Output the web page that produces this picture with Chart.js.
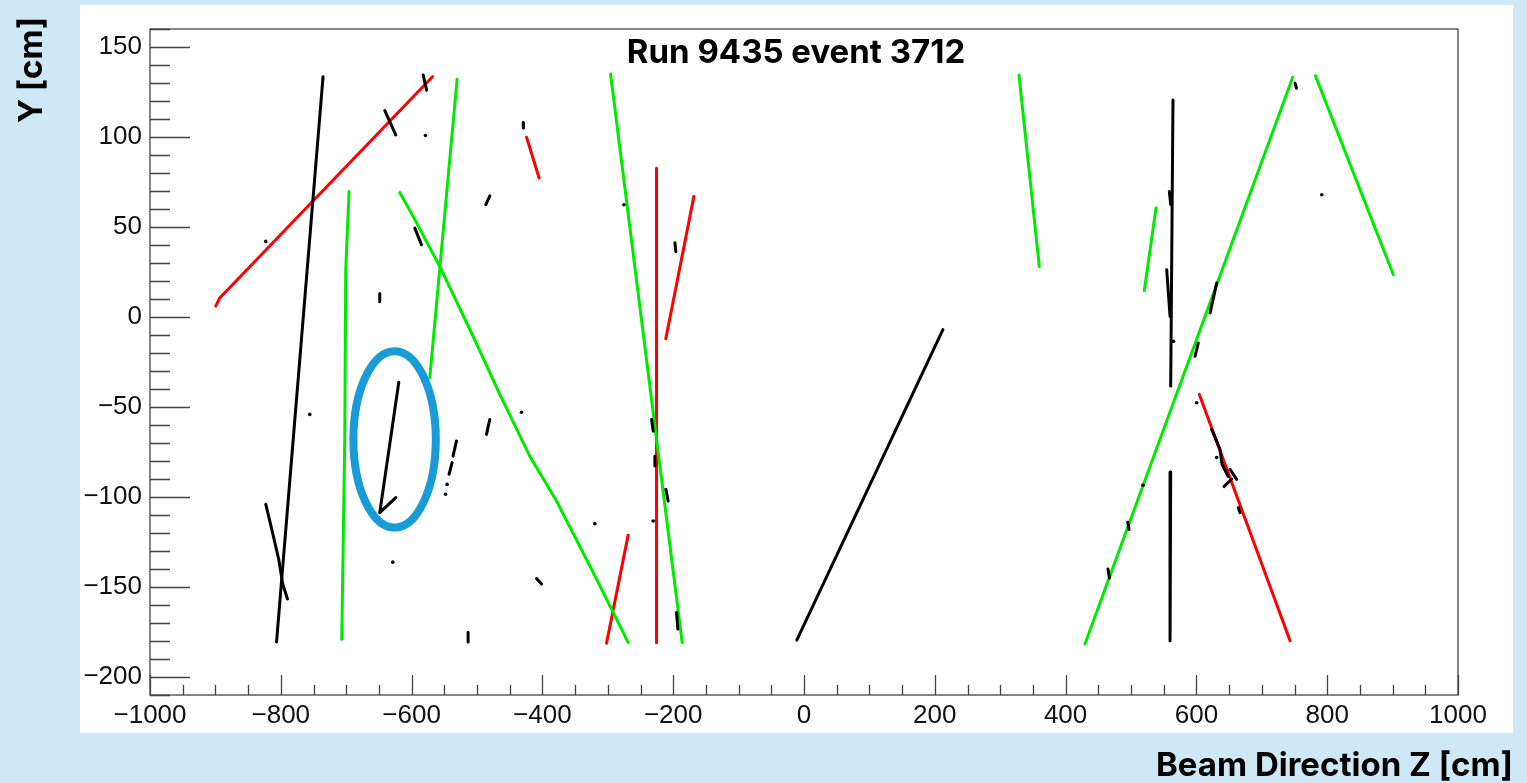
<!DOCTYPE html>
<html>
<head>
<meta charset="utf-8">
<title>Run 9435 event 3712</title>
<script src="https://cdn.jsdelivr.net/npm/chart.js@4.4.1/dist/chart.umd.min.js"></script>
<style>
  html, body { margin: 0; padding: 0; background: #cee8f5; }
  canvas { display: block; }
</style>
</head>
<body>
<canvas id="eventDisplay" width="1527" height="783"></canvas>
<script>
// Z-Y view of the event, every track is a polyline of [z, y] points in cm
const blackTracks = [
  [[-806.5, -180.5], [-735.4, 133.5]],
  [[-823, -104], [-813.9, -117.9], [-803.2, -134.6], [-797, -148.4], [-789.8, -156.7]],
  [[-619.6, -36.2], [-648.7, -108.7], [-624.2, -100.3]],
  [[-11, -179.5], [212.4, -7]],
  [[564.2, 120.6], [560.7, -38.4]],
  [[560.7, -86.1], [559.7, -179.9]],
  [[-641, 114.7], [-624.2, 101.2]],
  [[-582.3, 134.5], [-577, 126]]
];

const greenTracks = [
  [[-706.8, -179], [-702.2, -68], [-700.7, 26.3], [-695.6, 69.7]],
  [[-572.2, -33.8], [-530.4, 132.1]],
  [[-618.1, 69.2], [-597.7, 55.9], [-556.9, 28.1], [-506, -10.7], [-465.1, -43],
   [-419.3, -77.3], [-378.4, -102.2], [-322.4, -141.9], [-268.9, -180.8]],
  [[-295.8, 135], [-186.3, -180.8]],
  [[328.7, 134.5], [359.8, 28]],
  [[538.2, 60.5], [520.3, 14.6]],
  [[429.6, -181.7], [747.3, 133.2]],
  [[781.9, 134.1], [901.2, 23.5]]
];

const redTracks = [
  [[-899.5, 6], [-893.4, 10.6], [-568.1, 133.5]],
  [[-424.3, 99.9], [-405, 77.2]],
  [[-225.5, 82.7], [-225.5, -181]],
  [[-168.4, 67], [-211.3, -12.1]],
  [[-268.9, -121.2], [-301.9, -181.2]],
  [[604.5, -43], [743.2, -179.9]]
];

// short unassociated hit clusters
const hitSegments = [
  [[-486.5, 62.4], [-480.4, 67.3]],
  [[-197.4, 41.3], [-196, 36.3]],
  [[-480.4, -56.9], [-485.5, -65.2]],
  [[-531.4, -68.9], [-536.6, -77.3]],
  [[-538.1, -80.9], [-542.7, -87.4]],
  [[-409, -145.3], [-401.3, -148.4]],
  [[-513.6, -175.2], [-513.6, -180.6]],
  [[-211.2, -95.7], [-207.7, -102.2]],
  [[-233, -56.9], [-230.6, -63.4]],
  [[-228, -77.3], [-228, -82.8]],
  [[-648.7, 13], [-648.7, 8.5]],
  [[-595.1, 49.4], [-584.9, 40.2]],
  [[-429.5, 108], [-429, 105]],
  [[750.8, 129.9], [753, 127.1]],
  [[558.6, 69.7], [560.7, 62.4]],
  [[554.6, 26.3], [559.7, 0.4]],
  [[631.1, 18.9], [620.9, 2.3]],
  [[602.9, -14.4], [597.9, -21.8]],
  [[623.4, -62.4], [636.1, -73.5], [639.2, -81.8], [648.4, -88.5]],
  [[651.4, -84.6], [661.6, -90.2]],
  [[642.2, -94.2], [653.9, -90]],
  [[664.1, -105.9], [666.7, -108.7]],
  [[-194.9, -164.1], [-192.9, -173.4]],
  [[464.8, -140], [467, -145]],
  [[495, -114], [497, -118]]
];

const hitDots = [
  [-823, 42], [-578.8, 100.8], [-275.4, 62.4], [-431.9, -52.9], [-319.8, -114.8],
  [-230.6, -113.3], [-545.7, -93], [-548.2, -98.5], [-628.8, -136.2], [791.7, 67.9],
  [565, -13.5], [600.4, -47.6], [631, -78.1], [518.3, -93.5], [-755.7, -54.1]
];

// highlighted region around the short kinked track
const ringCenter = [-626, -68];
const ringRadius = [63, 49];

const titleText = 'Run 9435 event 3712';
const xTitle = 'Beam Direction Z [cm]';
const yTitle = 'Y [cm]';

const toXY = pts => pts.map(([x, y]) => ({ x, y }));
const fmt = v => (v < 0 ? '\u2212' + Math.abs(v) : String(v));

function trackSet(track, color) {
  return {
    data: toXY(track),
    showLine: true,
    borderColor: color,
    borderWidth: 3,
    pointRadius: 0,
    tension: 0,
    borderCapStyle: 'round',
    borderJoinStyle: 'round'
  };
}

const datasets = [
  {
    data: toXY(hitDots),
    showLine: false,
    pointRadius: 1.8,
    pointBorderWidth: 0,
    pointBackgroundColor: '#000'
  },
  ...hitSegments.map(s => trackSet(s, '#000')),
  ...blackTracks.map(t => trackSet(t, '#000')),
  ...greenTracks.map(t => trackSet(t, '#00ea00')),
  ...redTracks.map(t => trackSet(t, '#ff0000'))
];

const eventFrame = {
  id: 'eventFrame',
  beforeDraw(chart) {
    const ctx = chart.ctx;
    ctx.save();
    ctx.fillStyle = '#cee8f5';
    ctx.fillRect(0, 0, chart.width, chart.height);
    ctx.fillStyle = '#ffffff';
    ctx.fillRect(80, 5, 1433, 728);
    ctx.restore();
  },
  afterDatasetsDraw(chart) {
    const { ctx, chartArea: a, scales: { x, y } } = chart;
    ctx.save();

    // ring around the kinked track
    const cx = x.getPixelForValue(ringCenter[0]);
    const cy = y.getPixelForValue(ringCenter[1]);
    const rx = Math.abs(x.getPixelForValue(ringCenter[0] + ringRadius[0]) - cx);
    const ry = Math.abs(y.getPixelForValue(ringCenter[1] + ringRadius[1]) - cy);
    ctx.beginPath();
    ctx.ellipse(cx, cy, rx, ry, 0, 0, Math.PI * 2);
    ctx.strokeStyle = '#189bd7';
    ctx.lineWidth = 8;
    ctx.stroke();

    // frame and inward ticks
    ctx.strokeStyle = '#444';
    ctx.lineWidth = 1.3;
    ctx.strokeRect(a.left, a.top, a.right - a.left, a.bottom - a.top);
    ctx.beginPath();
    x.ticks.forEach(t => {
      if (t.value % 50 !== 0) return;
      const px = Math.round(x.getPixelForValue(t.value)) + 0.5;
      const len = t.value % 200 === 0 ? 20 : 10;
      ctx.moveTo(px, a.bottom);
      ctx.lineTo(px, a.bottom - len);
    });
    y.ticks.forEach(t => {
      if (t.value % 10 !== 0) return;
      const py = Math.round(y.getPixelForValue(t.value)) + 0.5;
      const len = t.value % 50 === 0 ? 40 : 20;
      ctx.moveTo(a.left, py);
      ctx.lineTo(a.left + len, py);
    });
    ctx.stroke();

    // titles
    ctx.fillStyle = '#000';
    ctx.textBaseline = 'alphabetic';
    ctx.font = 'bold 33px Inter, "Liberation Sans", sans-serif';
    ctx.textAlign = 'center';
    ctx.fillText(titleText, 796, 63);

    ctx.font = 'bold 33px Inter, "Liberation Sans", sans-serif';
    ctx.textAlign = 'right';
    ctx.fillText(xTitle, 1513, 776);

    ctx.translate(42, 70);
    ctx.rotate(-Math.PI / 2);
    ctx.font = 'bold 33px Inter, "Liberation Sans", sans-serif';
    ctx.textAlign = 'center';
    ctx.fillText(yTitle, 0, 0);
    ctx.restore();
  }
};

const tickFont = { family: '"Liberation Sans", Arial, Helvetica, sans-serif', size: 26 };

new Chart(document.getElementById('eventDisplay').getContext('2d'), {
  type: 'scatter',
  data: { datasets },
  options: {
    responsive: false,
    devicePixelRatio: 1,
    animation: false,
    events: [],
    layout: { padding: { left: 80, right: 69, top: 29, bottom: 48 } },
    plugins: { legend: { display: false }, tooltip: { enabled: false } },
    scales: {
      x: {
        type: 'linear',
        min: -1000,
        max: 1000,
        grid: { display: false, drawTicks: false },
        border: { display: false },
        afterFit: s => { s.height = 40; },
        ticks: {
          stepSize: 50,
          autoSkip: false,
          maxRotation: 0,
          padding: 5,
          color: '#111',
          font: tickFont,
          callback: v => (v % 200 === 0 ? fmt(v) : '')
        }
      },
      y: {
        type: 'linear',
        min: -210,
        max: 160,
        grid: { display: false, drawTicks: false },
        border: { display: false },
        afterFit: s => { s.width = 70; },
        ticks: {
          stepSize: 10,
          autoSkip: false,
          padding: 8,
          color: '#111',
          font: tickFont,
          callback: v => (v % 50 === 0 ? fmt(v) : '')
        }
      }
    }
  },
  plugins: [eventFrame]
});
</script>
</body>
</html>
